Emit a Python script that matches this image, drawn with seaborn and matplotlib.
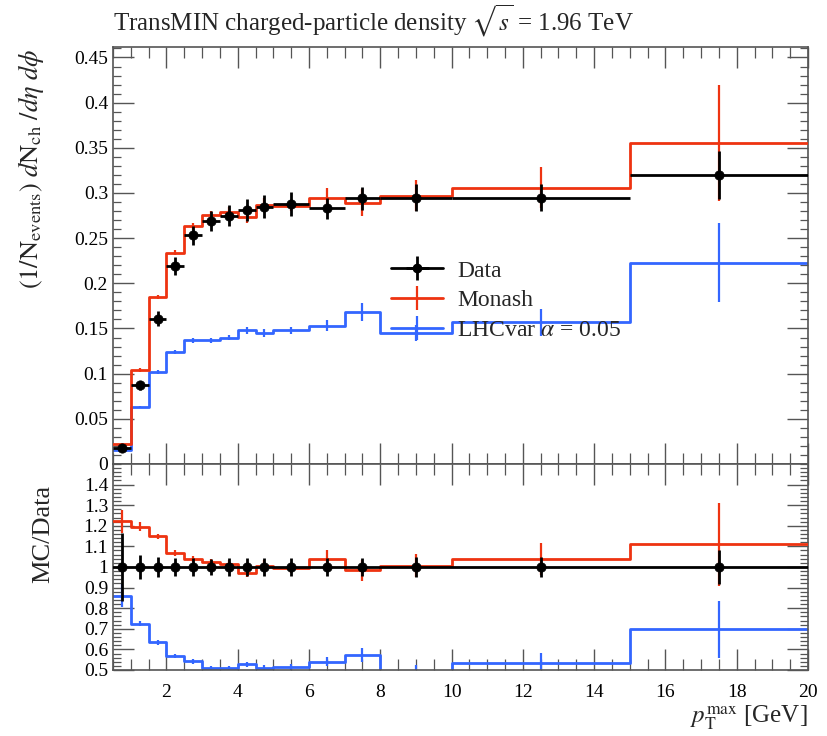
import numpy as np
import pandas as pd
import matplotlib
matplotlib.use("Agg")
import matplotlib.pyplot as plt
import seaborn as sns
from matplotlib.ticker import MultipleLocator, FixedLocator

# ---------------- data ----------------
bin_edges = [0.5, 1, 1.5, 2, 2.5, 3, 3.5, 4, 4.5, 5, 6, 7, 8, 10, 15, 20]
data_vals = [0.018, 0.087, 0.161, 0.219, 0.253, 0.269, 0.275, 0.281, 0.285,
             0.288, 0.283, 0.294, 0.295, 0.295, 0.320]
data_err = [0.003, 0.005, 0.008, 0.010, 0.011, 0.011, 0.012, 0.012, 0.013,
            0.013, 0.012, 0.013, 0.015, 0.015, 0.027]
monash_vals = [0.022, 0.104, 0.185, 0.234, 0.263, 0.276, 0.279, 0.273, 0.287,
               0.286, 0.294, 0.289, 0.297, 0.306, 0.355]
monash_err = [0.001, 0.002, 0.002, 0.003, 0.004, 0.004, 0.005, 0.006, 0.007,
              0.006, 0.012, 0.015, 0.017, 0.023, 0.064]
lhc_vals = [0.0155, 0.063, 0.102, 0.124, 0.137, 0.137, 0.140, 0.148, 0.145,
            0.148, 0.153, 0.168, 0.145, 0.157, 0.223]
lhc_err = [0.001, 0.001, 0.002, 0.002, 0.003, 0.003, 0.003, 0.004, 0.004,
           0.004, 0.006, 0.010, 0.009, 0.015, 0.044]

main_yticks = [0, 0.05, 0.1, 0.15, 0.2, 0.25, 0.3, 0.35, 0.4, 0.45]
main_yticklabels = ["0", "0.05", "0.1", "0.15", "0.2", "0.25", "0.3",
                    "0.35", "0.4", "0.45"]
ratio_yticks = [0.5, 0.6, 0.7, 0.8, 0.9, 1.0, 1.1, 1.2, 1.3, 1.4]
ratio_yticklabels = ["0.5", "0.6", "0.7", "0.8", "0.9", "1", "1.1", "1.2",
                     "1.3", "1.4"]
xticks = [2, 4, 6, 8, 10, 12, 14, 16, 18, 20]

RED = "#EE3311"
BLUE = "#3366FF"

# ---------------- style ----------------
sns.set_style("ticks")
plt.rcParams["font.family"] = ["Liberation Serif", "DejaVu Serif"]
plt.rcParams["mathtext.fontset"] = "stix"

edges = np.array(bin_edges)
centers = 0.5 * (edges[:-1] + edges[1:])
halfw = 0.5 * (edges[1:] - edges[:-1])
dv = np.array(data_vals)

fig = plt.figure(figsize=(8.27, 7.36), dpi=100)
ax = fig.add_axes([0.1366, 0.3696, 0.9770 - 0.1366, 0.936 - 0.3696])
rax = fig.add_axes([0.1366, 0.0897, 0.9770 - 0.1366, 0.3696 - 0.0897], sharex=ax)


def step_df(vals):
    v = list(vals) + [vals[-1]]
    return pd.DataFrame({"x": edges, "y": v})


def draw_steps(a, vals, color, z):
    sns.lineplot(data=step_df(vals), x="x", y="y", drawstyle="steps-post",
                 estimator=None, sort=False, color=color, lw=2.0, ax=a,
                 zorder=z, legend=False)


# ---- main panel ----
draw_steps(ax, lhc_vals, BLUE, 2)
ax.errorbar(centers, lhc_vals, yerr=lhc_err, fmt="none", ecolor=BLUE,
            elinewidth=1.6, zorder=2)
draw_steps(ax, monash_vals, RED, 3)
ax.errorbar(centers, monash_vals, yerr=monash_err, fmt="none", ecolor=RED,
            elinewidth=1.6, zorder=3)
ax.errorbar(centers, data_vals, xerr=halfw, yerr=data_err, fmt="none",
            ecolor="black", elinewidth=2.0, zorder=4)
sns.scatterplot(x=centers, y=data_vals, color="black", s=45, marker="o",
                edgecolor="black", ax=ax, zorder=5, legend=False)

# legend handles (dummy errorbar containers)
h_data = ax.errorbar([np.nan], [np.nan], xerr=[np.nan], yerr=[np.nan],
                     fmt="o-", color="black", ms=6, lw=2, elinewidth=2,
                     label="Data")
h_mon = ax.errorbar([np.nan], [np.nan], yerr=[np.nan], fmt="-", color=RED,
                    lw=2, elinewidth=1.6, label="Monash")
h_lhc = ax.errorbar([np.nan], [np.nan], yerr=[np.nan], fmt="-", color=BLUE,
                    lw=2, elinewidth=1.6, label=r"LHCvar $\alpha$ = 0.05")
ax.legend(handles=[h_data, h_mon, h_lhc], loc="center left",
          bbox_to_anchor=(0.37, 0.392), frameon=False, fontsize=17,
          handlelength=2.2, handletextpad=0.6, labelspacing=0.35)

ax.set_xlim(0.5, 20)
ax.set_ylim(0, 0.4615)
ax.yaxis.set_major_locator(FixedLocator(main_yticks))
ax.yaxis.set_minor_locator(MultipleLocator(0.01))
ax.set_yticklabels(main_yticklabels)
ax.set_ylabel(r"$(1/\mathrm{N}_{\mathrm{events}})\ d\mathrm{N}_{\mathrm{ch}}\ /d\eta\ d\phi$",
              fontsize=19, loc="top")
ax.yaxis.set_label_coords(-0.097, 0.995)
ax.tick_params(labelbottom=False)

# ---- ratio panel ----
ones = np.ones_like(dv)
draw_steps(rax, list(np.array(lhc_vals) / dv), BLUE, 2)
rax.errorbar(centers, np.array(lhc_vals) / dv, yerr=np.array(lhc_err) / dv,
             fmt="none", ecolor=BLUE, elinewidth=1.6, zorder=2)
draw_steps(rax, list(np.array(monash_vals) / dv), RED, 3)
rax.errorbar(centers, np.array(monash_vals) / dv,
             yerr=np.array(monash_err) / dv, fmt="none", ecolor=RED,
             elinewidth=1.6, zorder=3)
draw_steps(rax, list(ones), "black", 4)
rax.errorbar(centers, ones, yerr=np.array(data_err) / dv, fmt="none",
             ecolor="black", elinewidth=2.0, zorder=4)
sns.scatterplot(x=centers, y=ones, color="black", s=45, marker="o",
                edgecolor="black", ax=rax, zorder=5, legend=False)

rax.set_ylim(0.5, 1.5)
rax.yaxis.set_major_locator(FixedLocator(ratio_yticks))
rax.yaxis.set_minor_locator(MultipleLocator(0.02))
rax.set_yticklabels(ratio_yticklabels)
rax.xaxis.set_major_locator(FixedLocator(xticks))
rax.xaxis.set_minor_locator(MultipleLocator(0.5))
rax.set_xticklabels([str(t) for t in xticks])
rax.set_ylabel("MC/Data", fontsize=19)
rax.yaxis.set_label_coords(-0.085, 0.66)
rax.set_xlabel(r"$p_{\mathrm{T}}^{\mathrm{max}}$ [GeV]", fontsize=18,
               loc="right", labelpad=2)

for a in (ax, rax):
    a.tick_params(which="both", direction="in", top=True, right=True,
                  colors="#555555", labelcolor="black", labelsize=14)
    a.tick_params(which="major", length=15, width=1.0)
    a.tick_params(which="minor", length=6, width=0.9)
    a.tick_params(axis="x", which="minor", length=8)
    for s in a.spines.values():
        s.set_color("#555555")
        s.set_linewidth(1.2)
rax.tick_params(axis="x", pad=10)

fig.text(0.1366, 0.972, r"TransMIN charged-particle density $\sqrt{s}$ = 1.96 TeV",
         fontsize=18, ha="left", va="center")

fig.savefig("out.png", dpi=100)
